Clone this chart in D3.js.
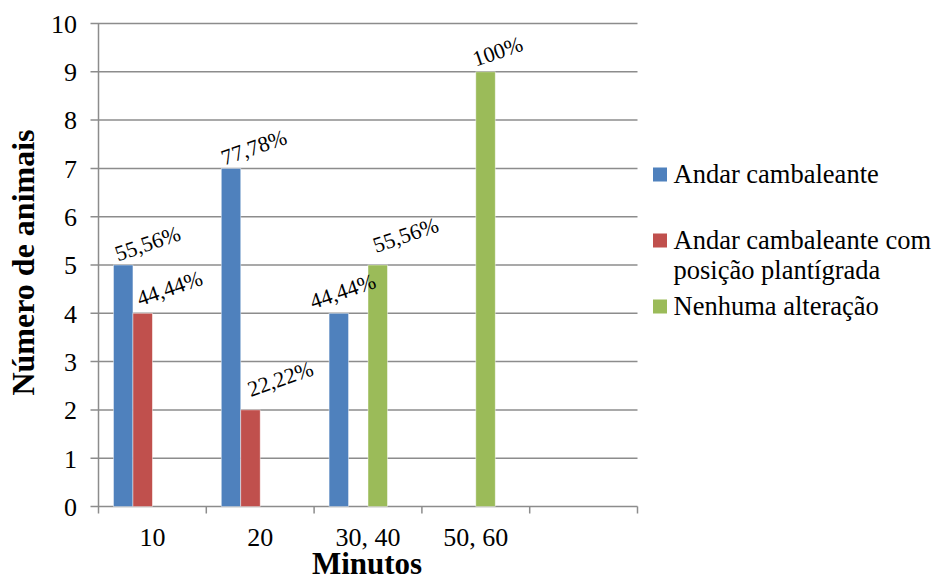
<!DOCTYPE html>
<html>
<head>
<meta charset="utf-8">
<script src="https://cdn.jsdelivr.net/npm/d3@7"></script>
<style>
  html, body { margin: 0; padding: 0; background: #fff; }
  svg { display: block; }
</style>
</head>
<body>
<svg id="fig" width="935" height="580"></svg>
<script>
// ---- data ----
const categories = ["10", "20", "30, 40", "50, 60", ""];
const seriesNames = ["Andar cambaleante", "Andar cambaleante com posição plantígrada", "Nenhuma alteração"];
const andarCambaleante = [5, 7, 4, 0, 0];
const andarPlantigrada = [4, 2, 0, 0, 0];
const nenhumaAlteracao = [0, 0, 5, 9, 0];
const labelsAndar = ["55,56%", "77,78%", "44,44%", "", ""];
const labelsPlantigrada = ["44,44%", "22,22%", "", "", ""];
const labelsNenhuma = ["", "", "55,56%", "100%", ""];
const yTicks = [0, 1, 2, 3, 4, 5, 6, 7, 8, 9, 10];

// ---- styles / layout ----
const FONT = "Liberation Serif";
const colors = ["#4f81bd", "#c0504d", "#9bbb59"];
const slotCount = 4; // bar slots per category (as in the original Excel layout)
// manual label nudges (dx, dy) relative to bar top-left, as placed in the original
const labelNudge = [
  [[4.5, -3.5], [3, -3], [-16, -4], [0, 0], [0, 0]],
  [[7, -7], [10, -13], [0, 0], [0, 0], [0, 0]],
  [[0, 0], [0, 0], [8, -12], [0, -5], [0, 0]]
];

const svg = d3.select("#fig");
const pLeft = 98.5, pRight = 637.5, pTop = 23.5, pBottom = 506.5;
const gridColor = "#8c8c8c";

function styleText(sel, size, weight) {
  sel.attr("font-family", FONT)
     .style("font-family", FONT, "important")
     .attr("font-size", size)
     .attr("font-weight", weight || "normal")
     .attr("fill", "#000");
  return sel;
}

const x0 = d3.scaleBand().domain(d3.range(categories.length)).range([pLeft, pRight]).padding(0);
const x1 = d3.scaleBand().domain(d3.range(slotCount)).range([0, x0.bandwidth()])
  .paddingInner(0).paddingOuter(0.77);
const y = d3.scaleLinear().domain([0, 10]).range([pBottom, pTop]);

// gridlines
svg.append("g").selectAll("line").data(yTicks).join("line")
  .attr("x1", pLeft - 8).attr("x2", pRight)
  .attr("y1", d => y(d)).attr("y2", d => y(d))
  .attr("stroke", gridColor).attr("stroke-width", 1.5);

// y axis line
svg.append("line").attr("x1", pLeft).attr("x2", pLeft).attr("y1", pTop).attr("y2", pBottom)
  .attr("stroke", gridColor).attr("stroke-width", 1.5);

// x tick marks
const xTickPos = d3.range(categories.length + 1).map(i => i < categories.length ? x0(i) : pRight);
svg.append("g").selectAll("line").data(xTickPos).join("line")
  .attr("x1", d => d).attr("x2", d => d).attr("y1", pBottom).attr("y2", pBottom + 7)
  .attr("stroke", gridColor).attr("stroke-width", 1.5);

// y tick labels
styleText(svg.append("g").selectAll("text").data(yTicks).join("text")
  .attr("x", 77).attr("y", d => y(d)).attr("dy", "0.36em")
  .attr("text-anchor", "end")
  .text(d => d), 26);

// x tick labels
styleText(svg.append("g").selectAll("text").data(categories).join("text")
  .attr("x", (d, i) => x0(i) + x0.bandwidth() / 2).attr("y", 546)
  .attr("text-anchor", "middle")
  .text(d => d), 26);

// bars
const seriesValues = [andarCambaleante, andarPlantigrada, nenhumaAlteracao];
const seriesLabels = [labelsAndar, labelsPlantigrada, labelsNenhuma];
seriesValues.forEach((vals, s) => {
  svg.append("g").selectAll("rect")
    .data(vals.map((v, i) => ({ v, i })).filter(d => d.v > 0))
    .join("rect")
    .attr("x", d => x0(d.i) + x1(s))
    .attr("y", d => y(d.v))
    .attr("width", x1.bandwidth())
    .attr("height", d => y(0) - y(d.v))
    .attr("fill", colors[s])
    .attr("stroke", "rgba(255,255,255,0.55)").attr("stroke-width", 0.8);
});

// data labels
seriesValues.forEach((vals, s) => {
  styleText(svg.append("g").selectAll("text")
    .data(vals.map((v, i) => ({ v, i, t: seriesLabels[s][i] })).filter(d => d.t))
    .join("text")
    .attr("transform", d => {
      const nx = x0(d.i) + x1(s) + labelNudge[s][d.i][0];
      const ny = y(d.v) + labelNudge[s][d.i][1];
      return `translate(${nx},${ny}) rotate(-19)`;
    })
    .text(d => d.t), 22);
});

// axis titles
styleText(svg.append("text")
  .attr("transform", `translate(34,${(125 + 400) / 2}) rotate(-90)`)
  .attr("text-anchor", "middle")
  .text("Número de animais"), 32, "bold");
styleText(svg.append("text")
  .attr("x", 367).attr("y", 574)
  .attr("text-anchor", "middle")
  .text("Minutos"), 31, "bold");

// legend
const legendX = 653;
const legendItems = [
  { s: 0, lines: ["Andar cambaleante"], baseline: 183 },
  { s: 1, lines: ["Andar cambaleante com", "posição plantígrada"], baseline: 249 },
  { s: 2, lines: ["Nenhuma alteração"], baseline: 315 }
];
const lg = svg.append("g");
legendItems.forEach(item => {
  lg.append("rect").attr("x", legendX).attr("y", item.baseline - 15.5)
    .attr("width", 14).attr("height", 14).attr("fill", colors[item.s]);
  const t = styleText(lg.append("text").attr("x", legendX + 20.5).attr("y", item.baseline), 26.5);
  item.lines.forEach((ln, k) => {
    t.append("tspan").attr("x", legendX + 20.5).attr("dy", k === 0 ? 0 : 30).text(ln);
  });
});
</script>
</body>
</html>
